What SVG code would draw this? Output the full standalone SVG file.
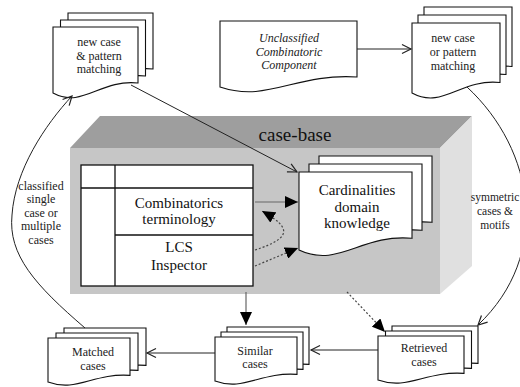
<svg xmlns="http://www.w3.org/2000/svg" width="520" height="387" viewBox="0 0 520 387">
<style>
  .doc { fill: #ffffff; stroke: #111111; stroke-width: 1.1; }
  text { font-family: 'Liberation Serif', 'DejaVu Serif', 'Times New Roman', serif; }
  .t12 { font-size: 12px; fill: #222222; text-anchor: middle; }
  .t11 { font-size: 11.5px; fill: #222222; text-anchor: middle; }
  .t12i { font-size: 12px; font-style: italic; fill: #222222; text-anchor: middle; }
  .t15 { font-size: 15px; fill: #111111; text-anchor: middle; }
  .title { font-size: 19px; fill: #111111; text-anchor: middle; }
  .tbl { fill: none; stroke: #111111; stroke-width: 1.3; }
  .conn { fill: none; stroke: #222222; stroke-width: 1; }
  .gray { fill: none; stroke: #666666; stroke-width: 1.2; }
  .dot { fill: none; stroke: #444444; stroke-width: 1.2; stroke-dasharray: 2 2; }
</style>
<defs>
  <marker id="open" viewBox="0 0 10 10" refX="9" refY="5" markerWidth="10" markerHeight="10" markerUnits="userSpaceOnUse" orient="auto" overflow="visible">
    <path d="M0,0.5 L9,5 L0,9.5" fill="none" stroke="#222222" stroke-width="1.2"/>
  </marker>
  <marker id="solid" viewBox="0 0 13 12" refX="13" refY="6" markerWidth="13" markerHeight="12" markerUnits="userSpaceOnUse" orient="auto">
    <path d="M0,0 L13,6 L0,12 Z" fill="#000000"/>
  </marker>
</defs>

<g id="case-base">
  <polygon points="70,148 100,116 472,116 440,148" fill="#9e9e9e"/>
  <polygon points="440,148 472,116 472,266 440,294" fill="#e0e0e0"/>
  <rect x="70" y="148" width="370" height="146" fill="#c6c6c6"/>
  <text class="title" x="295" y="141" font-family="Liberation Serif, serif">case-base</text>
</g>

<g id="table">
  <rect x="81" y="165" width="172" height="121" fill="#ffffff" stroke="#111111" stroke-width="1.3"/>
  <line class="tbl" x1="115" y1="165" x2="115" y2="286"/>
  <line class="tbl" x1="81" y1="188" x2="253" y2="188"/>
  <line class="tbl" x1="115" y1="235" x2="253" y2="235"/>
  <text class="t15" x="179" y="208">Combinatorics</text>
  <text class="t15" x="179" y="224">terminology</text>
  <text class="t15" x="179" y="252">LCS</text>
  <text class="t15" x="179" y="270">Inspector</text>
</g>

<g id="cardinalities">
  <path class="doc" d="M319,156 H432 V222.3 C381.2,217.6 358.6,252.7 319,234 Z"/>
  <path class="doc" d="M309,164 H422 V230.3 C371.2,225.6 348.6,260.7 309,242 Z"/>
  <path class="doc" d="M299,172 H412 V238.3 C361.2,233.6 338.6,268.7 299,250 Z"/>
  <text class="t15" x="357" y="195">Cardinalities</text>
  <text class="t15" x="357" y="212">domain</text>
  <text class="t15" x="357" y="228">knowledge</text>
</g>

<g id="new-case-pattern">
  <path class="doc" d="M68,13 H153 V69 C114.8,65 97.8,95 68,79 Z"/>
  <path class="doc" d="M60.5,20 H145.5 V76 C107.3,72 90.3,102 60.5,86 Z"/>
  <path class="doc" d="M53,27 H138 V83 C99.8,79 82.8,109 53,93 Z"/>
  <text class="t12" x="99" y="46">new case</text>
  <text class="t12" x="99" y="60">&amp; pattern</text>
  <text class="t12" x="99" y="73">matching</text>
</g>

<g id="unclassified">
  <path class="doc" d="M220,21 H357 V77 C295.4,73 267.9,103 220,87 Z"/>
  <text class="t12i" x="289" y="42">Unclassified</text>
  <text class="t12i" x="289" y="56">Combinatoric</text>
  <text class="t12i" x="289" y="69">Component</text>
</g>

<g id="new-case-or-pattern">
  <path class="doc" d="M424,7 H512 V66.5 C472.4,62.3 454.8,93.8 424,77 Z"/>
  <path class="doc" d="M418,15 H506 V74.5 C466.4,70.3 448.8,101.8 418,85 Z"/>
  <path class="doc" d="M412,23 H500 V82.5 C460.4,78.3 442.8,109.8 412,93 Z"/>
  <text class="t12" x="453" y="42">new case</text>
  <text class="t12" x="453" y="56">or pattern</text>
  <text class="t12" x="453" y="70">matching</text>
</g>

<g id="matched-cases">
  <path class="doc" d="M64,328 H146 V365.4 C109.1,362.8 92.7,382.6 64,372 Z"/>
  <path class="doc" d="M56,333 H138 V370.4 C101.1,367.8 84.7,387.6 56,377 Z"/>
  <path class="doc" d="M48,338 H130 V375.4 C93.1,372.8 76.7,392.6 48,382 Z"/>
  <text class="t12" x="93" y="356">Matched</text>
  <text class="t12" x="93" y="370">cases</text>
</g>

<g id="similar-cases">
  <path class="doc" d="M227,327 H309 V364.4 C272.1,361.8 255.7,381.6 227,371 Z"/>
  <path class="doc" d="M221,332 H303 V369.4 C266.1,366.8 249.7,386.6 221,376 Z"/>
  <path class="doc" d="M215,337 H297 V374.4 C260.1,371.8 243.7,391.6 215,381 Z"/>
  <text class="t12" x="255" y="355">Similar</text>
  <text class="t12" x="255" y="368">cases</text>
</g>

<g id="retrieved-cases">
  <path class="doc" d="M392,326 H478 V363.4 C439.3,360.8 422.1,380.6 392,370 Z"/>
  <path class="doc" d="M385.5,331 H471.5 V368.4 C432.8,365.8 415.6,385.6 385.5,375 Z"/>
  <path class="doc" d="M378,336 H464 V373.4 C425.3,370.8 408.1,390.6 378,380 Z"/>
  <text class="t12" x="424" y="352">Retrieved</text>
  <text class="t12" x="424" y="366">cases</text>
</g>

<g id="connectors">
  <line class="conn" x1="357" y1="49" x2="411" y2="49" marker-end="url(#open)"/>
  <line class="conn" x1="131" y1="85" x2="297" y2="172" marker-end="url(#open)"/>
  <path class="conn" d="M467,87 C535,150 552,255 478,325" marker-end="url(#open)"/>
  <path class="conn" d="M85,328 C35,285 8,255 12,215 C15,170 45,125 72,96" marker-end="url(#open)"/>
  <line class="conn" x1="378" y1="350" x2="311" y2="350" marker-end="url(#open)"/>
  <line class="conn" x1="215" y1="353" x2="147" y2="353" marker-end="url(#open)"/>
  <line class="gray" x1="255" y1="202" x2="298" y2="202" marker-end="url(#solid)"/>
  <path class="dot" d="M255,250 C292,238 292,228 262,211" marker-end="url(#solid)"/>
  <line class="dot" x1="255" y1="266" x2="298" y2="248" marker-end="url(#solid)"/>
  <line class="gray" x1="246" y1="292" x2="246" y2="325" marker-end="url(#solid)"/>
  <line class="dot" x1="347" y1="292" x2="385" y2="332" marker-end="url(#solid)"/>
  <text class="t12" x="41" y="190">classified</text>
  <text class="t12" x="41" y="203">single</text>
  <text class="t12" x="41" y="217">case or</text>
  <text class="t12" x="41" y="230">multiple</text>
  <text class="t12" x="41" y="244">cases</text>
  <text class="t11" x="495" y="201">symmetric</text>
  <text class="t11" x="495" y="215">cases &amp;</text>
  <text class="t11" x="495" y="229">motifs</text>
</g>
</svg>
